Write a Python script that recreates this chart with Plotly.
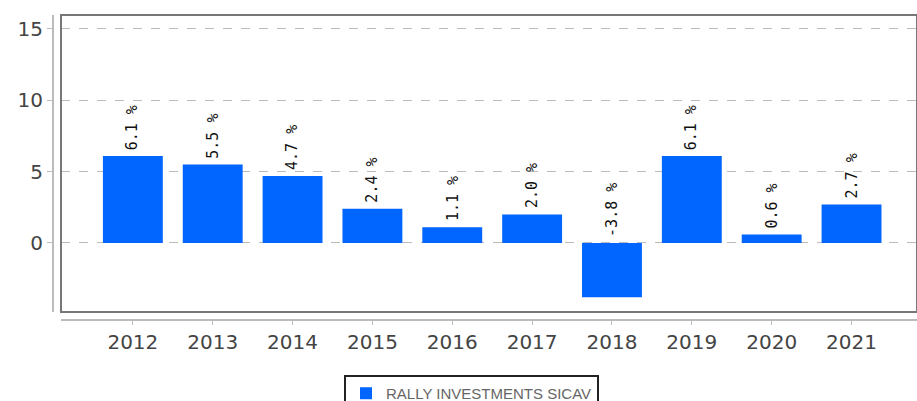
import plotly.graph_objects as go

years = ["2012", "2013", "2014", "2015", "2016", "2017", "2018", "2019", "2020", "2021"]
returns = [6.1, 5.5, 4.7, 2.4, 1.1, 2.0, -3.8, 6.1, 0.6, 2.7]
series_name = "RALLY INVESTMENTS SICAV"
y_ticks = [0, 5, 10, 15]

W, H = 917, 401
ml, mt, mb, mr = 53, 15, 81, 0
pw = W - ml - mr
ph = H - mt - mb
xdom0 = (61 - ml) / pw
ydom0 = 8 / ph

fig = go.Figure()
fig.add_trace(go.Bar(
    x=list(range(len(years))), y=returns, name=series_name,
    marker=dict(color="#0066ff", line=dict(width=0)),
    width=0.75, showlegend=True,
))

for i, v in enumerate(returns):
    fig.add_annotation(
        x=i, y=max(v, 0), text=f"{v:.1f} %", textangle=-90,
        showarrow=False, yanchor="bottom", xanchor="center", yshift=4,
        font=dict(family="DejaVu Sans Mono", size=15, color="#111111"),
    )

fig.add_shape(type="rect", xref="paper", yref="paper",
              x0=xdom0, x1=1.0, y0=ydom0, y1=1.0,
              line=dict(color="#777777", width=2), layer="above")

fig.update_layout(
    width=W, height=H,
    margin=dict(l=ml, r=mr, t=mt, b=mb, autoexpand=False),
    paper_bgcolor="white", plot_bgcolor="white",
    xaxis=dict(
        domain=[xdom0, 1.0], anchor="free", position=0,
        range=[-0.9, 9.82],
        tickmode="array", tickvals=list(range(len(years))), ticktext=years,
        showline=True, linecolor="#bbbbbb", linewidth=2,
        ticks="outside", ticklen=4, tickcolor="#bbbbbb",
        showgrid=False, zeroline=False,
        tickfont=dict(family="DejaVu Sans", size=20, color="#444444"),
    ),
    yaxis=dict(
        domain=[ydom0, 1.0], anchor="free", position=0,
        range=[-4.84, 15.98],
        tickmode="array", tickvals=y_ticks,
        showline=True, linecolor="#bbbbbb", linewidth=2,
        ticks="outside", ticklen=5, tickcolor="#bbbbbb",
        showgrid=True, gridcolor="#bbbbbb", griddash="dash", gridwidth=1,
        zeroline=False,
        tickfont=dict(family="DejaVu Sans", size=20, color="#444444"),
    ),
    legend=dict(
        orientation="h",
        xref="container", x=471.5 / W, xanchor="center",
        yref="container", y=1 - 375 / H, yanchor="top",
        bordercolor="#222222", borderwidth=2, bgcolor="white",
        font=dict(family="Liberation Sans", size=15, color="#666666"),
    ),
)

fig.write_html("out.html")
